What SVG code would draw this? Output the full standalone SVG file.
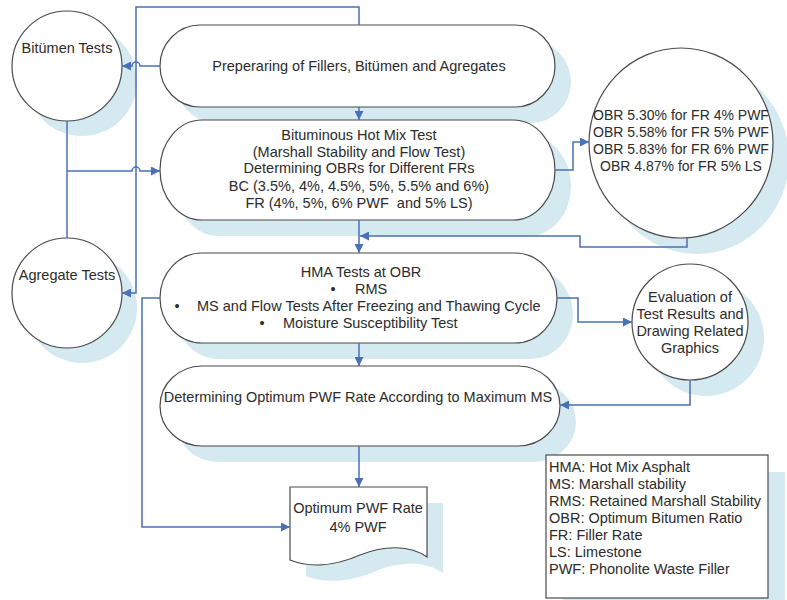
<svg xmlns="http://www.w3.org/2000/svg" width="787" height="600" viewBox="0 0 787 600">
<style>
.sh{fill:#d5e9f1;stroke:none}
.nd{fill:#ffffff;stroke:#4a4a4a;stroke-width:1.2}
.t{font-family:"Liberation Sans",Arial,sans-serif;font-size:14.5px;fill:#2b2b2b}
.s{font-size:14px}
.m{text-anchor:middle}
.c{fill:none;stroke:#4a70b5;stroke-width:1.5}
</style>
<defs>
<marker id="ah" viewBox="0 0 10 10" refX="10" refY="5" markerWidth="9" markerHeight="9" markerUnits="userSpaceOnUse" orient="auto">
<path d="M0,0 L10,5 L0,10 z" fill="#4a70b5"/>
</marker>
</defs>
<rect width="787" height="600" fill="#ffffff"/>

<g id="bitumen-tests">
<circle class="sh" cx="82" cy="81" r="55"/>
<circle class="nd" cx="67" cy="66" r="55"/>
<text class="t m" x="67" y="53">Bitümen Tests</text>
</g>

<g id="agregate-tests">
<circle class="sh" cx="82" cy="308" r="55"/>
<circle class="nd" cx="67" cy="293" r="55"/>
<text class="t m" x="67" y="280">Agregate Tests</text>
</g>

<g id="preparing">
<rect class="sh" x="176" y="41" width="395" height="82" rx="40" ry="41"/>
<rect class="nd" x="160" y="25" width="395" height="82" rx="40" ry="41"/>
<text class="t m" x="359" y="71">Preperaring of Fillers, Bitümen and Agregates</text>
</g>

<g id="hot-mix-test">
<rect class="sh" x="176" y="136" width="395" height="100" rx="42" ry="50"/>
<rect class="nd" x="160" y="120" width="395" height="100" rx="42" ry="50"/>
<text class="t m" x="359" y="140">Bituminous Hot Mix Test</text>
<text class="t m" x="359" y="157">(Marshall Stability and Flow Test)</text>
<text class="t m" x="359" y="173">Determining OBRs for Different FRs</text>
<text class="t m" x="359" y="191">BC (3.5%, 4%, 4.5%, 5%, 5.5% and 6%)</text>
<text class="t m" x="359" y="208">FR (4%, 5%, 6% PWF &#160;and 5% LS)</text>
</g>

<g id="obr-results">
<ellipse class="sh" cx="697" cy="159" rx="92" ry="95"/>
<ellipse class="nd" cx="681" cy="143" rx="92" ry="95"/>
<text class="t s m" x="681" y="120">OBR 5.30% for FR 4% PWF</text>
<text class="t s m" x="681" y="137">OBR 5.58% for FR 5% PWF</text>
<text class="t s m" x="681" y="154">OBR 5.83% for FR 6% PWF</text>
<text class="t s m" x="681" y="171">OBR 4.87% for FR 5% LS</text>
</g>

<g id="hma-tests">
<rect class="sh" x="176" y="269" width="397" height="90" rx="42" ry="45"/>
<rect class="nd" x="160" y="253" width="397" height="90" rx="42" ry="45"/>
<text class="t m" x="361" y="277">HMA Tests at OBR</text>
<text class="t m" x="333" y="294">•</text>
<text class="t" x="355" y="294">RMS</text>
<text class="t m" x="177" y="311">•</text>
<text class="t" x="197" y="311">MS and Flow Tests After Freezing and Thawing Cycle</text>
<text class="t m" x="262" y="328">•</text>
<text class="t" x="283" y="328">Moisture Susceptibility Test</text>
</g>

<g id="evaluation">
<circle class="sh" cx="706" cy="338" r="58"/>
<circle class="nd" cx="690" cy="322" r="58"/>
<text class="t m" x="690" y="302">Evaluation of</text>
<text class="t m" x="690" y="319">Test Results and</text>
<text class="t m" x="690" y="336">Drawing Related</text>
<text class="t m" x="690" y="353">Graphics</text>
</g>

<g id="optimum-rate">
<rect class="sh" x="176" y="382" width="400" height="80" rx="42" ry="40"/>
<rect class="nd" x="160" y="366" width="400" height="80" rx="42" ry="40"/>
<text class="t m" x="358" y="402">Determining Optimum PWF Rate According to Maximum MS</text>
</g>

<g id="result-document">
<path class="sh" d="M306,503 H443 V573 C426,561 401,561 376,571 C351,582 326,584 306,576 Z"/>
<path class="nd" d="M290,487 H427 V557 C410,545 385,545 360,555 C335,566 310,568 290,560 Z"/>
<text class="t m" x="358" y="513">Optimum PWF Rate</text>
<text class="t m" x="358" y="532">4% PWF</text>
</g>

<g id="legend">
<rect class="sh" x="563" y="472" width="222" height="143"/>
<rect class="nd" x="546" y="455" width="222" height="143"/>
<text class="t" x="549" y="472">HMA: Hot Mix Asphalt</text>
<text class="t" x="549" y="489">MS: Marshall stability</text>
<text class="t" x="549" y="506">RMS: Retained Marshall Stability</text>
<text class="t" x="549" y="523">OBR: Optimum Bitumen Ratio</text>
<text class="t" x="549" y="540">FR: Filler Rate</text>
<text class="t" x="549" y="557">LS: Limestone</text>
<text class="t" x="549" y="574">PWF: Phonolite Waste Filler</text>
</g>

<g id="connectors">
<path class="c" d="M160,66 H140 A4,4 0 0 0 132,66 H122" marker-end="url(#ah)"/>
<path class="c" d="M359,25 V7 H136 V293 H122" marker-end="url(#ah)"/>
<path class="c" d="M67,121 V238"/>
<path class="c" d="M67,171 H132 A4,4 0 0 1 140,171 H160" marker-end="url(#ah)"/>
<path class="c" d="M359,107 V120" marker-end="url(#ah)"/>
<path class="c" d="M555,170 H573 V142 H589" marker-end="url(#ah)"/>
<path class="c" d="M687,238 V247 H580 V236 H360" marker-end="url(#ah)"/>
<path class="c" d="M359,220 V253" marker-end="url(#ah)"/>
<path class="c" d="M557,298 H578 V322 H632" marker-end="url(#ah)"/>
<path class="c" d="M160,298 H142 V527 H290" marker-end="url(#ah)"/>
<path class="c" d="M359,343 V366" marker-end="url(#ah)"/>
<path class="c" d="M690,380 V405 H560" marker-end="url(#ah)"/>
<path class="c" d="M359,446 V487" marker-end="url(#ah)"/>
</g>
</svg>
